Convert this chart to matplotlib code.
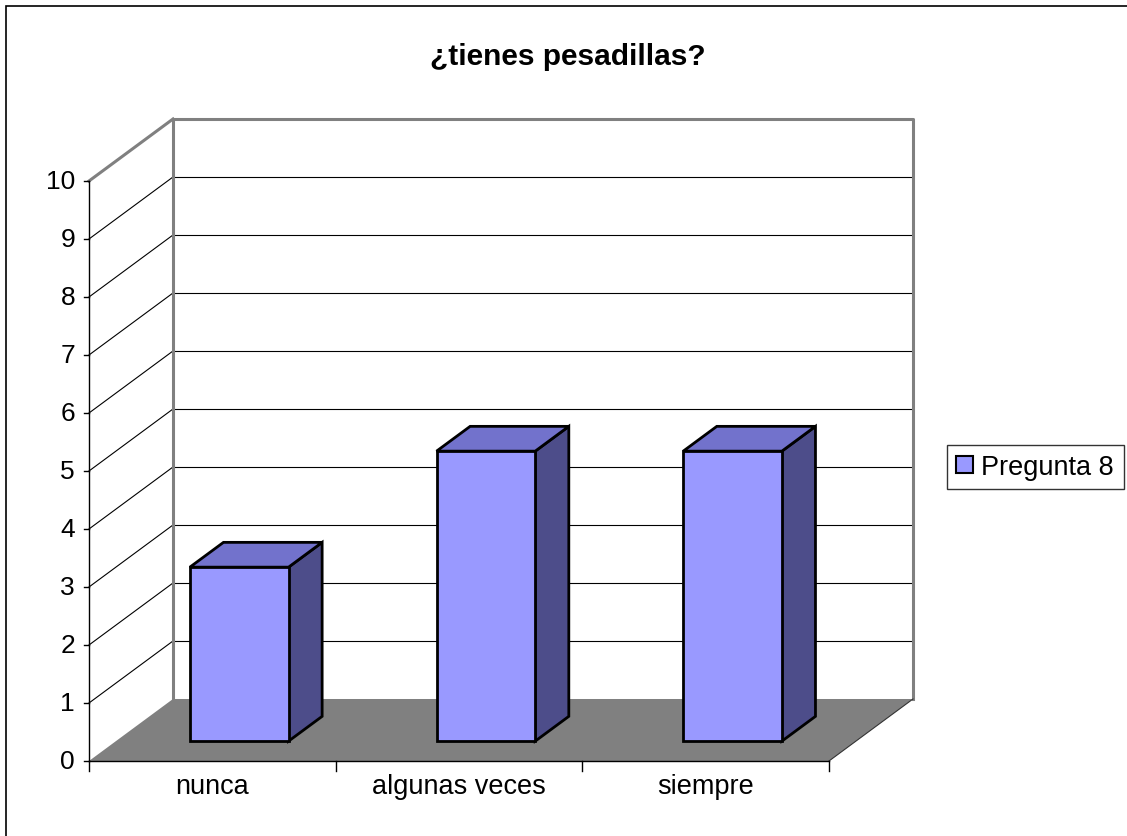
import matplotlib
matplotlib.use('Agg')
import matplotlib.pyplot as plt
from matplotlib.patches import Polygon, Patch, Rectangle

plt.rcParams['font.family'] = ['Liberation Sans', 'DejaVu Sans']

categories = ['nunca', 'algunas veces', 'siempre']
values = [3, 5, 5]
series_name = 'Pregunta 8'
title = '¿tienes pesadillas?'
yticks = list(range(0, 11))

# oblique projection of the depth axis (category units, value units)
DX = 0.3405
DY = 1.069
BAR_W = 0.4
D0, D1 = 0.32, 0.72

FRONT = '#9999FF'
TOP = '#7272CC'
SIDE = '#4D4D8A'
WALL_EDGE = '#808080'


def proj(x, v, d):
    return (x + d * DX, v + d * DY)


W, H = 1127, 837
fig = plt.figure(figsize=(W / 100, H / 100), dpi=100)
ax = fig.add_axes([0, 0, 1, 1])
px_x = 740 / 3.0
px_y = 58.0
ax.set_xlim(-89 / px_x, (W - 89) / px_x)
ax.set_ylim(-(H - 762) / px_y, 762 / px_y)
ax.axis('off')

n = len(categories)
vmax = yticks[-1]

# walls
ax.add_patch(Polygon([proj(0, 0, 1), proj(n, 0, 1), proj(n, vmax, 1), proj(0, vmax, 1)],
                     closed=True, facecolor='white', edgecolor='none', zorder=1))
for v in yticks[1:-1]:
    ax.plot(*zip(proj(0, v, 1), proj(n, v, 1)), color='black', lw=0.8, zorder=2)
    ax.plot(*zip(proj(0, v, 0), proj(0, v, 1)), color='black', lw=0.8, zorder=2)
ax.plot(*zip(proj(0, 0, 1), proj(0, vmax, 1), proj(n, vmax, 1), proj(n, 0, 1)),
        color=WALL_EDGE, lw=2.2, zorder=3)
ax.plot(*zip(proj(0, vmax, 0), proj(0, vmax, 1)), color=WALL_EDGE, lw=2.2, zorder=3)

# floor
ax.add_patch(Polygon([proj(0, 0, 0), proj(n, 0, 0), proj(n, 0, 1), proj(0, 0, 1)],
                     closed=True, facecolor='#808080', edgecolor='none', zorder=4))
ax.plot(*zip(proj(n, 0, 0), proj(n, 0, 1)), color='#333333', lw=0.8, zorder=4)

# bars
for i, val in enumerate(values):
    x0 = i + 0.5 - BAR_W / 2
    x1 = i + 0.5 + BAR_W / 2
    side = [proj(x1, 0, D0), proj(x1, 0, D1), proj(x1, val, D1), proj(x1, val, D0)]
    top = [proj(x0, val, D0), proj(x1, val, D0), proj(x1, val, D1), proj(x0, val, D1)]
    front = [proj(x0, 0, D0), proj(x1, 0, D0), proj(x1, val, D0), proj(x0, val, D0)]
    for pts, col in [(side, SIDE), (top, TOP), (front, FRONT)]:
        ax.add_patch(Polygon(pts, closed=True, facecolor=col, edgecolor='black',
                             lw=2.0, joinstyle='miter', zorder=5))

# axes lines and ticks
ax.plot([0, 0], [0, vmax], color='black', lw=1.0, zorder=6)
ax.plot([0, n], [0, 0], color='black', lw=1.0, zorder=6)
for v in yticks:
    ax.plot([-5 / px_x, 0], [v, v], color='black', lw=1.0, zorder=6)
    ax.text(-14 / px_x, v, str(v), ha='right', va='center', fontsize=19)
for k in range(n + 1):
    ax.plot([k, k], [0, -10 / px_y], color='black', lw=1.0, zorder=6)
for i, cat in enumerate(categories):
    ax.text(i + 0.5, -25 / px_y, cat, ha='center', va='center', fontsize=19.5)

fig.text(568 / W, 1 - 57 / H, title, ha='center', va='center',
         fontsize=21.5, fontweight='bold')

leg = fig.legend(handles=[Patch(facecolor=FRONT, edgecolor='black', lw=1.5, label=series_name)],
                 loc='center left', bbox_to_anchor=(947 / W, 1 - 468 / H),
                 fontsize=19.5, frameon=True, fancybox=False, handlelength=0.62,
                 handleheight=0.62, handletextpad=0.3, borderpad=0.35,
                 borderaxespad=0)
leg.get_frame().set_edgecolor('black')
leg.get_frame().set_linewidth(1.0)

fig.patches.append(Rectangle((6 / W, -0.01), 1.1, 1 - 7 / H + 0.01, transform=fig.transFigure,
                             fill=False, edgecolor='black', lw=1.2))

fig.savefig('out.png', dpi=100)
